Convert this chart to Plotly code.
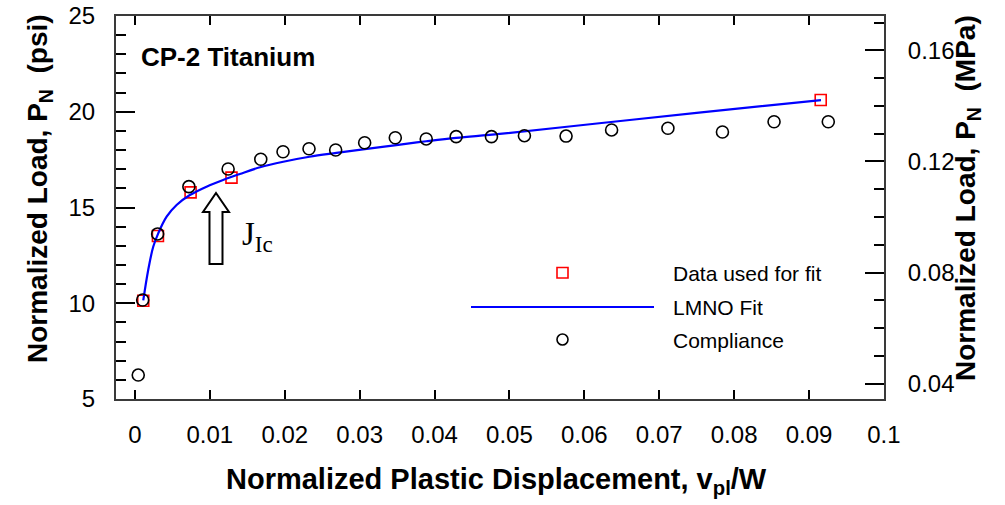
import plotly.graph_objects as go

# ---------------- data ----------------
comp_v = [0.00044, 0.00103, 0.00303, 0.0072, 0.01244, 0.0168, 0.01977, 0.02324,
          0.0268, 0.03067, 0.03476, 0.03889, 0.04289, 0.0476, 0.0520, 0.05756,
          0.06364, 0.07116, 0.07844, 0.08533, 0.09257]
comp_p = [6.25, 10.17, 13.62, 16.09, 17.01, 17.52, 17.91, 18.07,
          18.0, 18.38, 18.64, 18.58, 18.70, 18.70, 18.75, 18.73,
          19.05, 19.14, 18.94, 19.48, 19.48]

fit_data_v = [0.00111, 0.00307, 0.00743, 0.01289, 0.09156]
fit_data_p = [10.13, 13.51, 15.79, 16.56, 20.61]

lmno_v = [0.00111, 0.00177, 0.00244, 0.00311, 0.00423, 0.00556, 0.00733, 0.00956,
          0.01177, 0.0140, 0.0167, 0.0198, 0.0233, 0.0269, 0.0307, 0.0349,
          0.0389, 0.0429, 0.0487, 0.0620, 0.0753, 0.0916]
lmno_p = [10.15, 11.74, 12.95, 13.65, 14.52, 15.13, 15.65, 16.09,
          16.44, 16.75, 17.10, 17.39, 17.65, 17.85, 18.05, 18.26,
          18.46, 18.64, 18.84, 19.40, 19.95, 20.61]

x_range = [-0.00253, 0.10001]
psi_range = [5, 25]
PSI_TO_MPA = 0.00689476
x_ticks = [0, 0.01, 0.02, 0.03, 0.04, 0.05, 0.06, 0.07, 0.08, 0.09, 0.1]
x_ticktext = ["0", "0.01", "0.02", "0.03", "0.04", "0.05", "0.06", "0.07", "0.08", "0.09", "0.1"]

FONT = "Liberation Sans, Arial, sans-serif"
SERIF = "Liberation Serif, Times New Roman, serif"

# plot-area geometry (pixels)
W_FIG, H_FIG = 1005, 505
L, R, T, B = 116, 884, 16, 399
PW, PH = R - L, B - T


def px(x):
    return (x - L) / PW


def py(y):
    return (B - y) / PH


fig = go.Figure()

fig.add_trace(go.Scatter(
    x=fit_data_v, y=fit_data_p, mode="markers", name="Data used for fit",
    marker=dict(symbol="square-open", size=11, color="#ff0000", line=dict(width=1.6, color="#ff0000")),
    showlegend=False, hoverinfo="skip", cliponaxis=False))

fig.add_trace(go.Scatter(
    x=lmno_v, y=lmno_p, mode="lines", name="LMNO Fit", line_shape="spline",
    line=dict(color="#0000ff", width=2.2), showlegend=False, hoverinfo="skip"))

fig.add_trace(go.Scatter(
    x=comp_v, y=comp_p, mode="markers", name="Compliance",
    marker=dict(symbol="circle-open", size=12, color="#000000", line=dict(width=1.6, color="#000000")),
    showlegend=False, hoverinfo="skip", cliponaxis=False))

# invisible trace to carry the secondary (MPa) axis
fig.add_trace(go.Scatter(
    x=lmno_v, y=[p * PSI_TO_MPA for p in lmno_p], yaxis="y2", mode="lines",
    line=dict(width=0, color="rgba(0,0,0,0)"), showlegend=False, hoverinfo="skip"))

axis_line = dict(showline=True, linecolor="#3a3a3a", linewidth=2, showgrid=False,
                 zeroline=False, automargin=False)

fig.update_layout(
    width=W_FIG, height=H_FIG,
    margin=dict(l=L, r=W_FIG - R, t=T, b=H_FIG - B, pad=0, autoexpand=False),
    plot_bgcolor="white", paper_bgcolor="white",
    font=dict(family=FONT, color="black"),
    showlegend=False,
    xaxis=dict(
        range=x_range, tickmode="array", tickvals=x_ticks, ticktext=x_ticktext,
        ticks="inside", ticklen=9, tickwidth=1.5, tickcolor="black",
        mirror="ticks", tickfont=dict(size=24, family=FONT), ticklabelstandoff=13,
        **axis_line),
    yaxis=dict(
        range=psi_range, dtick=5, tick0=0,
        ticks="inside", ticklen=19, tickwidth=1.5, tickcolor="black",
        minor=dict(ticks="inside", ticklen=10, dtick=1, tickwidth=1.5, tickcolor="black"),
        tickfont=dict(size=24, family=FONT), ticklabelstandoff=14,
        **axis_line),
    yaxis2=dict(
        range=[psi_range[0] * PSI_TO_MPA, psi_range[1] * PSI_TO_MPA],
        overlaying="y", side="right", dtick=0.04, tick0=0, tickformat=".2f",
        ticks="inside", ticklen=19, tickwidth=1.5, tickcolor="black",
        minor=dict(ticks="inside", ticklen=10, dtick=0.01, tickwidth=1.5, tickcolor="black"),
        tickfont=dict(size=24, family=FONT), ticklabelstandoff=17,
        **axis_line),
)

annotations = [
    dict(text="<b>CP-2 Titanium</b>", x=px(139), y=py(57), xanchor="left", yanchor="middle",
         font=dict(size=26, family=FONT)),
    dict(text="<b>Normalized Load, P<sub>N</sub>\u00a0\u00a0(psi)</b>", x=px(39), y=py(189),
         xanchor="center", yanchor="middle", textangle=-90, font=dict(size=28, family=FONT)),
    dict(text="<b>Normalized Load, P<sub>N</sub>\u00a0\u00a0(MPa)</b>", x=px(967), y=py(198),
         xanchor="center", yanchor="middle", textangle=-90, font=dict(size=28, family=FONT)),
    dict(text="<b>Normalized Plastic Displacement, v<sub>pl</sub>/W</b>", x=px(496), y=py(481),
         xanchor="center", yanchor="middle", font=dict(size=29, family=FONT)),
    dict(text="J<sub>Ic</sub>", x=px(240), y=py(236), xanchor="left", yanchor="middle",
         font=dict(size=33, family=SERIF)),
    dict(text="Data used for fit", x=px(671), y=py(273), xanchor="left", yanchor="middle",
         font=dict(size=21, family=FONT)),
    dict(text="LMNO Fit", x=px(671), y=py(307), xanchor="left", yanchor="middle",
         font=dict(size=21, family=FONT)),
    dict(text="Compliance", x=px(671), y=py(340), xanchor="left", yanchor="middle",
         font=dict(size=21, family=FONT)),
]
for a in annotations:
    a.update(xref="paper", yref="paper", showarrow=False)
fig.update_layout(annotations=annotations)

# hollow block arrow pointing at J_Ic
arrow_pts = [(216, 193), (229, 212), (222.5, 212), (222.5, 264), (209.5, 264), (209.5, 212), (203, 212)]
path = "M " + " L ".join(f"{px(x):.5f},{py(y):.5f}" for x, y in arrow_pts) + " Z"

shapes = [
    dict(type="path", path=path, xref="paper", yref="paper",
         line=dict(color="black", width=2), fillcolor="white"),
    # manual legend symbols
    dict(type="rect", xref="paper", yref="paper", x0=px(557), x1=px(568), y0=py(267.5), y1=py(278),
         line=dict(color="#ff0000", width=1.6), fillcolor="rgba(0,0,0,0)"),
    dict(type="line", xref="paper", yref="paper", x0=px(471), x1=px(654), y0=py(307), y1=py(307),
         line=dict(color="#0000ff", width=2.2)),
    dict(type="circle", xref="paper", yref="paper", x0=px(557), x1=px(568), y0=py(334), y1=py(345),
         line=dict(color="black", width=1.6), fillcolor="rgba(0,0,0,0)"),
]
fig.update_layout(shapes=shapes)

fig.write_html("out.html", config={"displayModeBar": False},
               post_script="document.body.style.margin='0';document.body.style.overflow='hidden';")
